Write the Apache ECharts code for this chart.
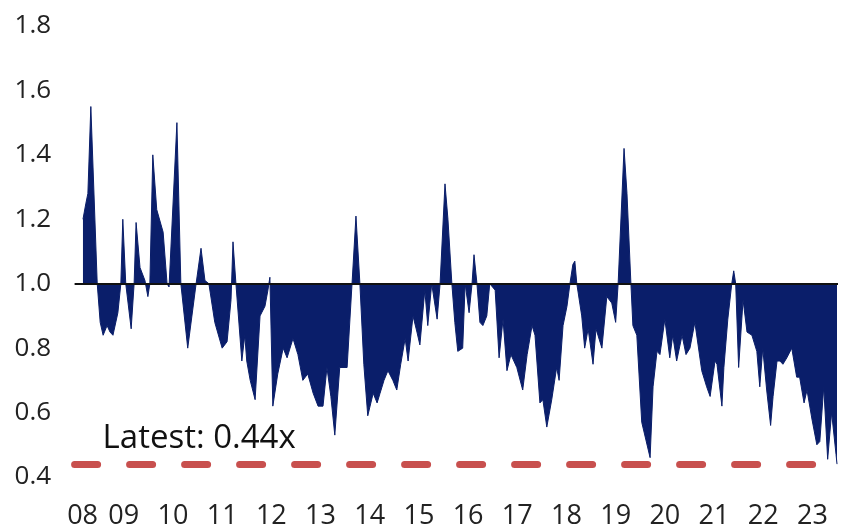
<!DOCTYPE html>
<html>
<head>
<meta charset="utf-8">
<script src="https://cdn.jsdelivr.net/npm/echarts@6/dist/echarts.min.js"></script>
<style>
  html, body { margin: 0; padding: 0; background: #fff; }
  #chart { width: 843px; height: 531px; }
</style>
</head>
<body>
<div id="chart"></div>
<script>
// Decimal-year dates
const dates = [
  2008.17, 2008.23, 2008.27, 2008.33, 2008.46, 2008.52, 2008.58, 2008.66, 2008.72, 2008.78,
  2008.88, 2008.94, 2008.98, 2009.04, 2009.15, 2009.21, 2009.25, 2009.33, 2009.43, 2009.49,
  2009.53, 2009.59, 2009.67, 2009.80, 2009.88, 2009.92, 2010.08, 2010.16, 2010.30, 2010.47,
  2010.57, 2010.65, 2010.73, 2010.85, 2011.00, 2011.10, 2011.18, 2011.22, 2011.28, 2011.40,
  2011.46, 2011.50, 2011.57, 2011.67, 2011.71, 2011.77, 2011.87, 2011.93, 2011.97, 2012.03,
  2012.13, 2012.24, 2012.32, 2012.44, 2012.54, 2012.64, 2012.74, 2012.85, 2012.95, 2013.05,
  2013.13, 2013.21, 2013.29, 2013.39, 2013.54, 2013.64, 2013.72, 2013.80, 2013.88, 2013.96,
  2014.07, 2014.15, 2014.21, 2014.29, 2014.37, 2014.47, 2014.55, 2014.63, 2014.72, 2014.78,
  2014.88, 2014.96, 2015.02, 2015.12, 2015.18, 2015.26, 2015.37, 2015.43, 2015.53, 2015.59,
  2015.67, 2015.73, 2015.79, 2015.89, 2015.94, 2016.02, 2016.08, 2016.12, 2016.18, 2016.24,
  2016.30, 2016.38, 2016.44, 2016.55, 2016.63, 2016.71, 2016.79, 2016.87, 2016.99, 2017.11,
  2017.20, 2017.30, 2017.36, 2017.46, 2017.52, 2017.60, 2017.70, 2017.80, 2017.85, 2017.93,
  2018.01, 2018.07, 2018.13, 2018.17, 2018.21, 2018.31, 2018.37, 2018.44, 2018.54, 2018.60,
  2018.72, 2018.82, 2018.92, 2019.00, 2019.05, 2019.17, 2019.23, 2019.31, 2019.35, 2019.43,
  2019.53, 2019.70, 2019.76, 2019.84, 2019.90, 2020.00, 2020.10, 2020.16, 2020.24, 2020.35,
  2020.43, 2020.51, 2020.61, 2020.65, 2020.75, 2020.85, 2020.92, 2021.02, 2021.06, 2021.16,
  2021.20, 2021.28, 2021.36, 2021.40, 2021.44, 2021.50, 2021.59, 2021.67, 2021.77, 2021.87,
  2021.93, 2021.99, 2022.07, 2022.15, 2022.20, 2022.28, 2022.34, 2022.40, 2022.48, 2022.58,
  2022.68, 2022.74, 2022.83, 2022.89, 2022.99, 2023.09, 2023.15, 2023.23, 2023.31, 2023.39,
  2023.43, 2023.48, 2023.50
];
// Ratio values (x)
const ratios = [
  1.20, 1.25, 1.28, 1.55, 1.00, 0.88, 0.84, 0.87, 0.85, 0.84,
  0.91, 1.00, 1.20, 1.00, 0.86, 1.00, 1.19, 1.05, 1.01, 0.96,
  1.00, 1.40, 1.23, 1.16, 1.00, 0.99, 1.50, 1.00, 0.80, 1.00,
  1.11, 1.01, 1.00, 0.88, 0.80, 0.82, 0.95, 1.13, 1.00, 0.76,
  0.84, 0.76, 0.70, 0.64, 0.64, 0.90, 0.93, 0.98, 1.02, 0.62,
  0.72, 0.80, 0.77, 0.83, 0.78, 0.70, 0.72, 0.66, 0.62, 0.62,
  0.74, 0.65, 0.53, 0.74, 0.74, 1.00, 1.21, 1.00, 0.75, 0.59,
  0.66, 0.63, 0.66, 0.70, 0.73, 0.70, 0.67, 0.75, 0.83, 0.76,
  0.90, 0.85, 0.81, 0.98, 0.87, 1.00, 0.89, 1.00, 1.31, 1.20,
  1.00, 0.88, 0.79, 0.80, 1.00, 0.91, 1.00, 1.09, 1.00, 0.88,
  0.87, 0.90, 1.00, 0.98, 0.77, 0.89, 0.73, 0.78, 0.74, 0.67,
  0.78, 0.87, 0.84, 0.63, 0.64, 0.555, 0.64, 0.74, 0.70, 0.87,
  0.93, 1.00, 1.06, 1.07, 1.00, 0.90, 0.80, 0.86, 0.75, 0.86,
  0.80, 0.96, 0.94, 0.88, 1.00, 1.42, 1.28, 1.00, 0.87, 0.84,
  0.57, 0.46, 0.68, 0.79, 0.78, 0.89, 0.77, 0.84, 0.76, 0.84,
  0.78, 0.80, 0.88, 0.88, 0.73, 0.68, 0.65, 0.76, 0.75, 0.62,
  0.74, 0.89, 1.00, 1.04, 1.00, 0.74, 0.95, 0.85, 0.84, 0.79,
  0.68, 0.80, 0.67, 0.56, 0.65, 0.76, 0.76, 0.75, 0.77, 0.80,
  0.71, 0.71, 0.63, 0.67, 0.58, 0.50, 0.51, 0.68, 0.455, 0.60,
  0.60, 0.47, 0.44
];
const yearTicks = ['08','09','10','11','12','13','14','15','16','17','18','19','20','21','22','23'];
const yTicks = [0.4, 0.6, 0.8, 1.0, 1.2, 1.4, 1.6, 1.8];
const baseline = 1.0;
const latest = 0.44;
const latestLabel = 'Latest: 0.44x';

const FONT = '"Open Sans", "Noto Sans", sans-serif';
const chart = echarts.init(document.getElementById('chart'), null, { renderer: 'canvas' });
const seriesData = dates.map((d, i) => [d, ratios[i]]);

chart.setOption({
  animation: false,
  backgroundColor: '#ffffff',
  grid: { left: 74.6, right: 5, top: 26, bottom: 54, containLabel: false },
  xAxis: {
    type: 'value',
    min: 2008,
    max: 2023.52,
    interval: 1,
    axisLine: { show: false },
    axisTick: { show: false },
    splitLine: { show: false },
    axisLabel: {
      margin: 26,
      fontSize: 27,
      fontFamily: FONT,
      color: '#222',
      showMaxLabel: false,
      formatter: function (v) {
        const r = Math.round(v);
        if (Math.abs(v - r) > 1e-6) return '';
        const i = r - 2008;
        if (i < 0 || i >= yearTicks.length) return '';
        return i === 0 ? '{first|' + yearTicks[0] + '}' : yearTicks[i];
      },
      rich: {
        first: { fontSize: 27, fontFamily: FONT, color: '#222', padding: [0, 0, 0, 16] }
      }
    }
  },
  yAxis: {
    type: 'value',
    min: yTicks[0],
    max: yTicks[yTicks.length - 1],
    interval: 0.2,
    axisLine: { show: false },
    axisTick: { show: false },
    splitLine: { show: false },
    axisLabel: {
      align: 'left',
      margin: 60,
      fontSize: 26,
      fontFamily: FONT,
      color: '#222',
      formatter: v => v.toFixed(1)
    }
  },
  series: [{
    type: 'line',
    data: seriesData,
    showSymbol: false,
    symbol: 'none',
    lineStyle: { color: '#0A1E6A', width: 1 },
    areaStyle: { color: '#0A1E6A', opacity: 1, origin: baseline },
    markLine: {
      silent: true,
      symbol: ['none', 'none'],
      animation: false,
      data: [
        {
          yAxis: baseline,
          lineStyle: { color: '#111', width: 2, type: 'solid' },
          label: { show: false }
        },
        {
          yAxis: latest,
          lineStyle: { color: '#C8504E', width: 7, type: [23, 32], cap: 'round', opacity: 1 },
          label: {
            show: true,
            position: 'insideStartTop',
            formatter: latestLabel,
            fontSize: 33,
            fontFamily: FONT,
            color: '#111',
            distance: [28, 9]
          }
        }
      ]
    }
  }]
});
</script>
</body>
</html>
